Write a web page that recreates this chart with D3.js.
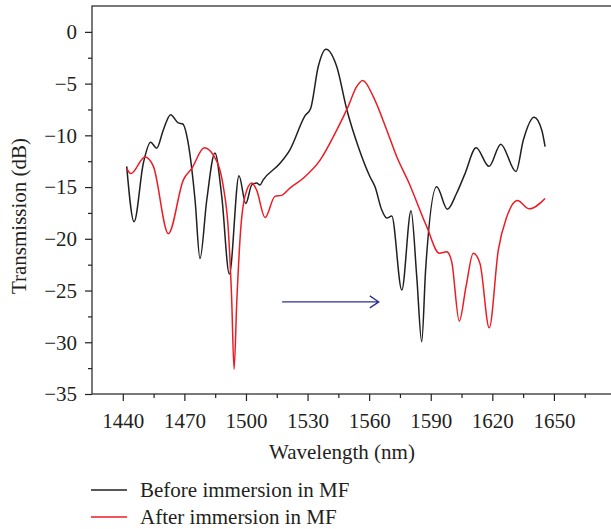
<!DOCTYPE html>
<html>
<head>
<meta charset="utf-8">
<script src="https://cdn.jsdelivr.net/npm/d3@7"></script>
<style>
  body { margin: 0; background: #fff; }
  svg { display: block; }
  text { font-family: "Liberation Serif", "DejaVu Serif", serif; fill: #231f20; }
</style>
</head>
<body>
<div id="chart"></div>
<script>
// wavelength (nm) and transmission (dB)
var beforeWl = [1441.9, 1445.5, 1450.0, 1453.6, 1456.5, 1459.7, 1463.3, 1467.0, 1469.2, 1471.9,
    1475.2, 1477.6, 1480.9, 1484.9, 1488.2, 1491.9, 1496.6, 1499.9, 1502.8, 1505.2,
    1506.8, 1508.4, 1516.6, 1521.4, 1528.8, 1531.5, 1535.2, 1539.0, 1544.2, 1549.1,
    1554.7, 1560.4, 1562.9, 1566.1, 1568.6, 1571.0, 1575.9, 1580.4, 1583.2, 1585.6,
    1587.5, 1592.9, 1598.1, 1602.6, 1606.7, 1612.1, 1618.4, 1624.1, 1631.5, 1635.1,
    1640.3, 1644.1, 1645.7];
var beforeDb = [-13.0, -18.35, -12.7, -10.67, -11.25, -9.5, -8.0, -8.8, -8.9, -10.8,
    -16.25, -21.9, -16.25, -11.7, -15.9, -23.4, -13.9, -16.6, -14.8, -14.6,
    -14.8, -14.3, -12.7, -11.4, -8.1, -7.4, -3.35, -1.67, -3.35, -7.5,
    -11.1, -14.0, -15.0, -17.2, -18.0, -17.8, -24.95, -17.3, -23.7, -29.95,
    -23.0, -14.96, -17.15, -15.6, -13.7, -11.2, -13.0, -10.85, -13.5, -10.45,
    -8.25, -9.5, -11.1];

var afterWl = [1441.9, 1443.9, 1450.8, 1454.9, 1462.2, 1469.5, 1473.6, 1479.7, 1484.1, 1489.0,
    1491.4, 1493.0, 1494.2, 1495.5, 1497.4, 1499.5, 1502.8, 1505.2, 1509.3, 1514.1,
    1517.4, 1521.4, 1527.9, 1536.1, 1544.2, 1549.8, 1553.9, 1556.9, 1562.0, 1568.6,
    1573.4, 1579.4, 1588.0, 1594.2, 1597.8, 1600.2, 1603.9, 1607.2, 1610.7, 1614.0,
    1618.5, 1622.9, 1627.0, 1632.2, 1638.0, 1645.7];
var afterDb = [-13.2, -13.7, -12.1, -13.0, -19.5, -14.3, -13.2, -11.2, -11.9, -15.0,
    -19.15, -25.6, -32.6, -26.2, -19.15, -15.9, -14.6, -15.3, -17.95, -15.9,
    -15.8, -15.1, -14.15, -12.4, -9.5, -7.2, -5.3, -4.7, -6.25, -9.5,
    -12.05, -14.6, -18.8, -21.4, -21.25, -22.2, -27.95, -24.6, -21.4, -22.4,
    -28.6, -21.1, -17.9, -16.3, -17.1, -16.1];

var xTicks = [1440, 1470, 1500, 1530, 1560, 1590, 1620, 1650];
var yTicks = [0, -5, -10, -15, -20, -25, -30, -35];
var seriesNames = ["Before immersion in MF", "After immersion in MF"];
var seriesColors = ["#231f20", "#ed1c24"];
// shift arrow (wavelength from, to; level in dB)
var arrowWl = [1517.6, 1564.7];
var arrowDb = -26.1;

var width = 611, height = 529;
var margin = { left: 92, top: 6 };
var plotBottom = 394;
var fontSize = "21px";

var x = d3.scaleLinear().domain([1425, 1680]).range([margin.left, margin.left + 255 * 2.053]);
var y = d3.scaleLinear().domain([-35, 2.5]).range([plotBottom, margin.top]);

var svg = d3.select("#chart").append("svg")
    .attr("width", width)
    .attr("height", height);

// frame (right side runs off the picture)
svg.append("rect")
    .attr("x", x(1425))
    .attr("y", y(2.5))
    .attr("width", x(1680) - x(1425))
    .attr("height", y(-35) - y(2.5))
    .attr("fill", "none")
    .attr("stroke", "#231f20")
    .attr("stroke-width", 1.2);

// x axis, major + minor ticks
var xAxis = svg.append("g").attr("transform", "translate(0," + plotBottom + ")");
xAxis.call(d3.axisBottom(x).tickValues(xTicks).tickSize(7).tickFormat(d3.format("d")));
xAxis.append("g").call(d3.axisBottom(x).tickValues(d3.range(1455, 1680, 30)).tickSize(4).tickFormat(""));
xAxis.selectAll(".domain").remove();
xAxis.selectAll("line").attr("stroke", "#231f20").attr("stroke-width", 1.2);
xAxis.selectAll("text")
    .attr("y", 14)
    .attr("dy", "0.95em")
    .style("font-size", fontSize)
    .style("font-family", "Liberation Serif, serif")
    .attr("fill", "#231f20");

// y axis
var yAxis = svg.append("g").attr("transform", "translate(" + margin.left + ",0)");
yAxis.call(d3.axisLeft(y).tickValues(yTicks).tickSize(7)
    .tickFormat(function(d) { return d < 0 ? "\u2212" + Math.abs(d) : d; }));
yAxis.append("g").call(d3.axisLeft(y).tickValues(d3.range(-32.5, 2.5, 5)).tickSize(4).tickFormat(""));
yAxis.selectAll(".domain").remove();
yAxis.selectAll("line").attr("stroke", "#231f20").attr("stroke-width", 1.2);
yAxis.selectAll("text")
    .attr("x", -15)
    .style("font-size", fontSize)
    .style("font-family", "Liberation Serif, serif")
    .attr("fill", "#231f20");

// axis titles
svg.append("text")
    .attr("x", 342)
    .attr("y", 459)
    .attr("text-anchor", "middle")
    .style("font-size", fontSize)
    .text("Wavelength (nm)");

svg.append("text")
    .attr("transform", "translate(26,216) rotate(-90)")
    .attr("text-anchor", "middle")
    .style("font-size", fontSize)
    .text("Transmission (dB)");

// the two spectra
var line = d3.line()
    .x(function(d) { return x(d[0]); })
    .y(function(d) { return y(d[1]); })
    .curve(d3.curveMonotoneX);

var series = [d3.zip(beforeWl, beforeDb), d3.zip(afterWl, afterDb)];

svg.selectAll("path.spectrum")
    .data(series)
    .enter().append("path")
    .attr("class", "spectrum")
    .attr("d", line)
    .attr("fill", "none")
    .attr("stroke", function(d, i) { return seriesColors[i]; })
    .attr("stroke-width", 1.5)
    .attr("stroke-linejoin", "round");

// arrow showing the red shift
var ax0 = x(arrowWl[0]), ax1 = x(arrowWl[1]), ay = y(arrowDb);
svg.append("path")
    .attr("d", "M" + ax0 + "," + ay + "H" + ax1 +
        "M" + (ax1 - 9) + "," + (ay - 6) + "L" + ax1 + "," + ay + "L" + (ax1 - 9) + "," + (ay + 6))
    .attr("fill", "none")
    .attr("stroke", "#2e3192")
    .attr("stroke-width", 1.3);

// legend
var legend = svg.selectAll("g.legend")
    .data(seriesNames)
    .enter().append("g")
    .attr("class", "legend")
    .attr("transform", function(d, i) { return "translate(91," + (490 + i * 27) + ")"; });

legend.append("line")
    .attr("x1", 0)
    .attr("x2", 36)
    .attr("stroke", function(d, i) { return seriesColors[i]; })
    .attr("stroke-width", 1.5);

legend.append("text")
    .attr("x", 49)
    .attr("y", 7)
    .style("font-size", fontSize)
    .text(function(d) { return d; });
</script>
</body>
</html>
